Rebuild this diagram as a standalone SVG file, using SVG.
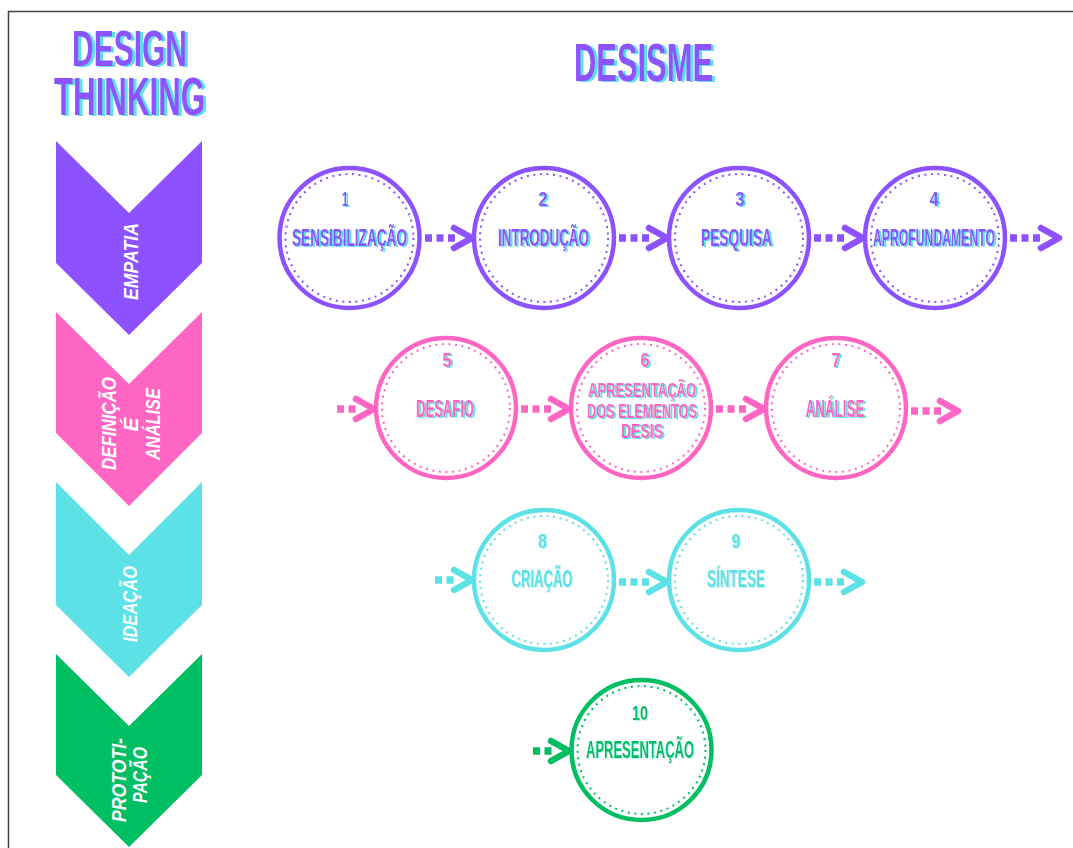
<svg xmlns="http://www.w3.org/2000/svg" width="1073" height="848" viewBox="0 0 1073 848">
<defs>
<filter id="shc" x="-10%" y="-20%" width="125%" height="140%">
<feFlood flood-color="#5ce1e6"/>
<feComposite in2="SourceAlpha" operator="in"/>
<feOffset dx="1.6" dy="0.6"/>
<feMerge><feMergeNode/><feMergeNode in="SourceGraphic"/></feMerge>
</filter>
<filter id="sht" x="-10%" y="-20%" width="125%" height="140%">
<feFlood flood-color="#5ce1e6"/>
<feComposite in2="SourceAlpha" operator="in"/>
<feOffset dx="3" dy="1"/>
<feMerge><feMergeNode/><feMergeNode in="SourceGraphic"/></feMerge>
</filter>
<filter id="shl" x="-10%" y="-20%" width="125%" height="140%">
<feFlood flood-color="#b8f3f5"/>
<feComposite in2="SourceAlpha" operator="in"/>
<feOffset dx="1.2" dy="0.5"/>
<feMerge><feMergeNode/><feMergeNode in="SourceGraphic"/></feMerge>
</filter>
</defs>
<style>
.t{font-family:"Liberation Sans","DejaVu Sans",sans-serif;text-anchor:middle}
.title{font-weight:bold;fill:#8c52ff}
.lb{font-size:23px;font-weight:bold}
.lb6{font-size:20px;font-weight:bold}
.num{font-size:21px;font-weight:bold}
.chv{font-family:"Liberation Sans","DejaVu Sans",sans-serif;font-weight:bold;font-style:italic;fill:#ffffff;text-anchor:middle;font-size:21px}
.ring{fill:#ffffff;stroke-width:4.5}
.dots{fill:none;stroke-width:2;stroke-dasharray:2 4.6}
.dash{fill:none;stroke-width:7.5;stroke-dasharray:7 4.5}
.head{fill:none;stroke-width:6.5;stroke-linecap:round;stroke-linejoin:round}
.p{stroke:#8c52ff}.pk{stroke:#ff66c4}.c{stroke:#5ce1e6}.g{stroke:#00bf63}
.fp{fill:#8c52ff}.fpk{fill:#ff66c4}.fc{fill:#5ce1e6}.fg{fill:#00bf63}
</style>
<rect width="1073" height="848" fill="#ffffff"/>
<path d="M8.5,848 V11.5 H1073" fill="none" stroke="#444444" stroke-width="1.5"/>

<g id="titles">
<text class="t title" filter="url(#sht)"><tspan x="129.5" y="66" font-size="50" textLength="115" lengthAdjust="spacingAndGlyphs">DESIGN</tspan><tspan x="129.5" y="115" font-size="53" textLength="151" lengthAdjust="spacingAndGlyphs">THINKING</tspan></text>
<text class="t title" x="643.5" y="81" font-size="54" textLength="139" lengthAdjust="spacingAndGlyphs" filter="url(#sht)">DESISME</text>
</g>

<g id="stage-empatia">
<polygon points="56,141 129,213 202,141 202,263 129,335 56,263" fill="#8c52ff"/>
<text class="chv" transform="translate(138,261.5) rotate(-90)" x="0" y="0" textLength="77" lengthAdjust="spacingAndGlyphs">EMPATIA</text>
</g>
<g id="stage-definicao">
<polygon points="56,312 129,384 202,312 202,433 129,506 56,433" fill="#ff66c4"/>
<text class="chv" transform="translate(116,423.5) rotate(-90)" x="0" y="0" textLength="93" lengthAdjust="spacingAndGlyphs">DEFINIÇÃO</text>
<text class="chv" transform="translate(138,424.5) rotate(-90)" x="0" y="0">É</text>
<text class="chv" transform="translate(160,424) rotate(-90)" x="0" y="0" textLength="72" lengthAdjust="spacingAndGlyphs">ANÁLISE</text>
</g>
<g id="stage-ideacao">
<polygon points="56,482 129,555 202,482 202,605 129,677 56,605" fill="#5ce1e6"/>
<text class="chv" transform="translate(137,604) rotate(-90)" x="0" y="0" textLength="76" lengthAdjust="spacingAndGlyphs">IDEAÇÃO</text>
</g>
<g id="stage-prototipacao">
<polygon points="56,654 129,726 202,654 202,775 129,847 56,775" fill="#00bf63"/>
<text class="chv" transform="translate(126,780) rotate(-90)" x="0" y="0" textLength="84" lengthAdjust="spacingAndGlyphs">PROTOTI-</text>
<text class="chv" transform="translate(147,775) rotate(-90)" x="0" y="0" textLength="56" lengthAdjust="spacingAndGlyphs">PAÇÃO</text>
</g>

<g id="connectors">
<path class="dash p" d="M425,238 H455"/><path class="head p" d="M454,228 L472,238 L454,248"/>
<path class="dash p" d="M619,238 H650"/><path class="head p" d="M649,228 L667,238 L649,248"/>
<path class="dash p" d="M814,238 H846"/><path class="head p" d="M845,228 L863,238 L845,248"/>
<path class="dash p" d="M1010,238 H1042"/><path class="head p" d="M1041,228 L1059,238 L1041,248"/>

<path class="dash pk" d="M337,409 H357"/><path class="head pk" d="M356,399 L374,409 L356,419"/>
<path class="dash pk" d="M521,409 H552"/><path class="head pk" d="M551,399 L569,409 L551,419"/>
<path class="dash pk" d="M716,409 H747"/><path class="head pk" d="M746,399 L764,409 L746,419"/>
<path class="dash pk" d="M911,411 H941"/><path class="head pk" d="M940,401 L958,411 L940,421"/>

<path class="dash c" d="M435,580 H455"/><path class="head c" d="M454,570 L472,580 L454,590"/>
<path class="dash c" d="M619,582 H650"/><path class="head c" d="M649,572 L667,582 L649,592"/>
<path class="dash c" d="M814,582 H845"/><path class="head c" d="M844,572 L862,582 L844,592"/>

<path class="dash g" d="M533,751 H552"/><path class="head g" d="M551,741 L569,751 L551,761"/>
</g>

<g id="step-1">
<circle class="ring p" cx="349.5" cy="238" r="70"/><circle class="dots p" cx="349.5" cy="238" r="64"/>
<text class="t num fp" x="345" y="206" textLength="6" lengthAdjust="spacingAndGlyphs" filter="url(#shc)">1</text>
<text class="t lb fp" x="349.5" y="245.5" textLength="115" lengthAdjust="spacingAndGlyphs" filter="url(#shc)">SENSIBILIZAÇÃO</text>
</g>
<g id="step-2">
<circle class="ring p" cx="544" cy="238" r="70"/><circle class="dots p" cx="544" cy="238" r="64"/>
<text class="t num fp" x="543" y="206" textLength="9" lengthAdjust="spacingAndGlyphs" filter="url(#shc)">2</text>
<text class="t lb fp" x="543.5" y="245.5" textLength="91" lengthAdjust="spacingAndGlyphs" filter="url(#shc)">INTRODUÇÃO</text>
</g>
<g id="step-3">
<circle class="ring p" cx="739" cy="238" r="70"/><circle class="dots p" cx="739" cy="238" r="64"/>
<text class="t num fp" x="740" y="206" textLength="9" lengthAdjust="spacingAndGlyphs" filter="url(#shc)">3</text>
<text class="t lb fp" x="736.5" y="245.5" textLength="71" lengthAdjust="spacingAndGlyphs" filter="url(#shc)">PESQUISA</text>
</g>
<g id="step-4">
<circle class="ring p" cx="935" cy="238" r="70"/><circle class="dots p" cx="935" cy="238" r="64"/>
<text class="t num fp" x="934" y="206" textLength="9" lengthAdjust="spacingAndGlyphs" filter="url(#shc)">4</text>
<text class="t lb fp" x="934" y="245.5" textLength="122" lengthAdjust="spacingAndGlyphs" filter="url(#shc)">APROFUNDAMENTO</text>
</g>

<g id="step-5">
<circle class="ring pk" cx="446" cy="408" r="70"/><circle class="dots pk" cx="446" cy="408" r="64"/>
<text class="t num fpk" x="447" y="367" textLength="9" lengthAdjust="spacingAndGlyphs" filter="url(#shc)">5</text>
<text class="t lb fpk" x="445" y="417" textLength="58" lengthAdjust="spacingAndGlyphs" filter="url(#shc)">DESAFIO</text>
</g>
<g id="step-6">
<circle class="ring pk" cx="641" cy="408" r="70"/><circle class="dots pk" cx="641" cy="408" r="64"/>
<text class="t num fpk" x="645" y="367" textLength="9" lengthAdjust="spacingAndGlyphs" filter="url(#shc)">6</text>
<text class="t lb6 fpk" x="642" y="397" textLength="108" lengthAdjust="spacingAndGlyphs" filter="url(#shc)">APRESENTAÇÃO</text>
<text class="t lb6 fpk" x="642" y="418" textLength="110" lengthAdjust="spacingAndGlyphs" filter="url(#shc)">DOS ELEMENTOS</text>
<text class="t lb6 fpk" x="642" y="438" textLength="42" lengthAdjust="spacingAndGlyphs" filter="url(#shc)">DESIS</text>
</g>
<g id="step-7">
<circle class="ring pk" cx="836" cy="408" r="70"/><circle class="dots pk" cx="836" cy="408" r="64"/>
<text class="t num fpk" x="836" y="367" textLength="9" lengthAdjust="spacingAndGlyphs" filter="url(#shc)">7</text>
<text class="t lb fpk" x="835" y="417" textLength="59" lengthAdjust="spacingAndGlyphs" filter="url(#shc)">ANÁLISE</text>
</g>

<g id="step-8">
<circle class="ring c" cx="544" cy="580" r="70"/><circle class="dots c" cx="544" cy="580" r="64"/>
<text class="t num fc" x="542.5" y="548" textLength="9" lengthAdjust="spacingAndGlyphs" filter="url(#shl)">8</text>
<text class="t lb fc" x="542" y="587" textLength="61" lengthAdjust="spacingAndGlyphs" filter="url(#shl)">CRIAÇÃO</text>
</g>
<g id="step-9">
<circle class="ring c" cx="739" cy="580" r="70"/><circle class="dots c" cx="739" cy="580" r="64"/>
<text class="t num fc" x="736" y="548" textLength="9" lengthAdjust="spacingAndGlyphs" filter="url(#shl)">9</text>
<text class="t lb fc" x="736" y="587" textLength="58" lengthAdjust="spacingAndGlyphs" filter="url(#shl)">SÍNTESE</text>
</g>

<g id="step-10">
<circle class="ring g" cx="641.5" cy="750" r="70"/><circle class="dots g" cx="641.5" cy="750" r="64"/>
<text class="t num fg" x="640" y="720" textLength="16" lengthAdjust="spacingAndGlyphs" filter="url(#shl)">10</text>
<text class="t lb fg" x="640" y="758" textLength="108" lengthAdjust="spacingAndGlyphs" filter="url(#shl)">APRESENTAÇÃO</text>
</g>
</svg>
